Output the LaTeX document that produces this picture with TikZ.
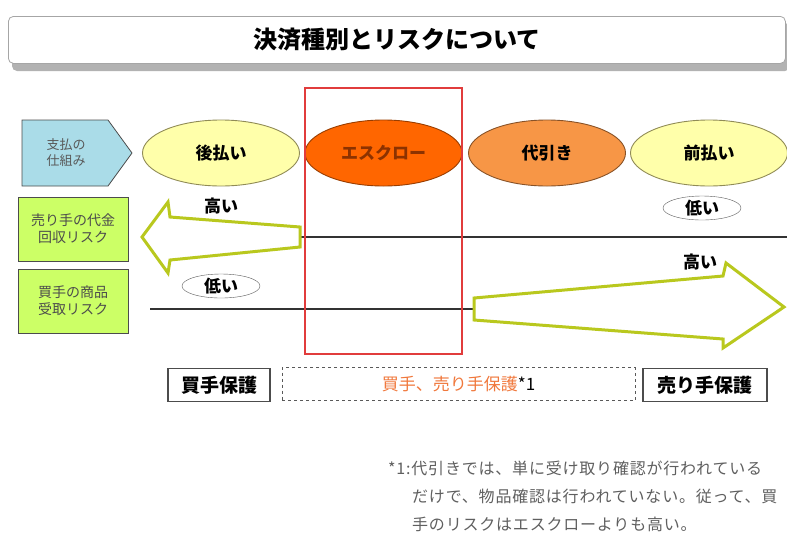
\documentclass[tikz,border=0pt]{standalone}
\usepackage{fontspec}
\newfontfamily\jp{Noto Sans CJK JP}
\newfontfamily\jpnote[LetterSpace=5]{Noto Sans CJK JP}
\usetikzlibrary{shapes.geometric}
\definecolor{penblue}{RGB}{170,220,232}
\definecolor{riskgreen}{RGB}{204,255,102}
\definecolor{paleyellow}{RGB}{255,255,170}
\definecolor{escrow}{RGB}{255,102,0}
\definecolor{cod}{RGB}{247,150,70}
\definecolor{arrowolive}{RGB}{185,200,30}
\definecolor{framered}{RGB}{225,60,60}
\definecolor{protorange}{RGB}{240,120,60}
\definecolor{notegray}{RGB}{95,95,95}
\begin{document}
\begin{tikzpicture}[x=1pt,y=-1pt,font=\jp,
  oval/.style={ellipse, line width=0.9pt, minimum width=157pt, minimum height=66pt, inner sep=0pt,
    font=\jp\bfseries\fontsize{17}{20}\selectfont},
  riskbox/.style={draw=gray!60!black, fill=riskgreen, line width=0.8pt, minimum width=110pt, minimum height=64pt,
    align=center, inner sep=0pt, text=black!70, font=\jp\fontsize{14}{17}\selectfont},
  level/.style={font=\jp\bfseries\fontsize{17}{20}\selectfont, inner sep=1pt},
  lowoval/.style={ellipse, draw=gray!70!black, fill=white, minimum width=78pt, minimum height=24pt, inner sep=0pt,
    font=\jp\bfseries\fontsize{17}{20}\selectfont},
  protbox/.style={draw=gray!60!black, line width=1.3pt, fill=white, minimum height=33pt,
    inner sep=0pt, font=\jp\bfseries\fontsize{19}{22}\selectfont},
  fatarrow/.style={draw=arrowolive, line width=3pt, fill=white, line join=miter},
  riskline/.style={draw=black!80, line width=1.4pt},
  note/.style={anchor=base west, inner sep=0pt, text=notegray, font=\jpnote\fontsize{16}{19}\selectfont}
]
\useasboundingbox (0,0) rectangle (787,550);
% title
\fill[gray!60, rounded corners=5pt] (12,23) rectangle (790,71);
\node[draw=gray!70, fill=white, rounded corners=5pt, minimum width=777pt, minimum height=47pt,
  anchor=north west, line width=0.8pt, font=\jp\bfseries\fontsize{24}{28}\selectfont] (title) at (8,16) {決済種別とリスクについて};
% row of payment methods
\draw[fill=penblue, draw=gray!60!black, line width=0.8pt] (22,120) -- (108,120) -- (132,153) -- (108,186) -- (22,186) -- cycle;
\node[align=center, text=black!65, font=\jp\fontsize{13}{16}\selectfont] (scheme) at (66,153) {支払の\\仕組み};
\node[oval, fill=paleyellow, draw=gray!60!olive] (atobarai) at (221,153) {後払い};
\node[oval, fill=escrow, draw=escrow!60!black, text={rgb,255:red,140;green,50;blue,0}] (escrow) at (383.5,153) {エスクロー};
\node[oval, fill=cod, draw=cod!55!black] (daibiki) at (547,153) {代引き};
\node[oval, fill=paleyellow, draw=gray!60!olive] (maebarai) at (709,153) {前払い};
% risk boxes
\node[riskbox] (sellerrisk) at (73,229) {売り手の代金\\回収リスク};
\node[riskbox] (buyerrisk) at (73,301) {買手の商品\\受取リスク};
% lines
\coordinate (l1a) at (300,237);
\coordinate (l1b) at (787,237);
\coordinate (l2a) at (150,309);
\coordinate (l2b) at (474,309);
\draw[riskline] (l1a) -- (l1b);
\draw[riskline] (l2a) -- (l2b);
% arrows
\draw[fatarrow] (300,227) -- (170,217) -- (168,202) -- (142,237) -- (168,273) -- (170,260) -- (300,247) -- cycle;
\draw[fatarrow] (474,298) -- (723,276) -- (726,263) -- (784,307) -- (723,348) -- (723,339) -- (474,320) -- cycle;
% levels
\node[level] (high1) at (221,206) {高い};
\node[lowoval] (low1) at (221,286) {低い};
\node[lowoval] (low2) at (702,208) {低い};
\node[level] (high2) at (700,262) {高い};
% escrow frame
\draw[framered, line width=1.3pt] (305,88) rectangle (462,354);
% protection boxes
\node[protbox, minimum width=102pt] (buyerprot) at (219,385) {買手保護};
\node[draw=gray!70!black, dashed, line width=0.9pt, minimum width=353pt, minimum height=33pt, inner sep=0pt,
  font=\jp\fontsize{17}{20}\selectfont] (bothprot) at (458.5,384) {\textcolor{protorange}{買手、売り手保護}*1};
\node[protbox, minimum width=124pt] (sellerprot) at (705,385) {売り手保護};
% footnote
\node[note] (note1) at (388,474) {*1:代引きでは、単に受け取り確認が行われている};
\node[note] (note2) at (412,502) {だけで、物品確認は行われていない。従って、買};
\node[note] (note3) at (412,530) {手のリスクはエスクローよりも高い。};
\end{tikzpicture}
\end{document}
